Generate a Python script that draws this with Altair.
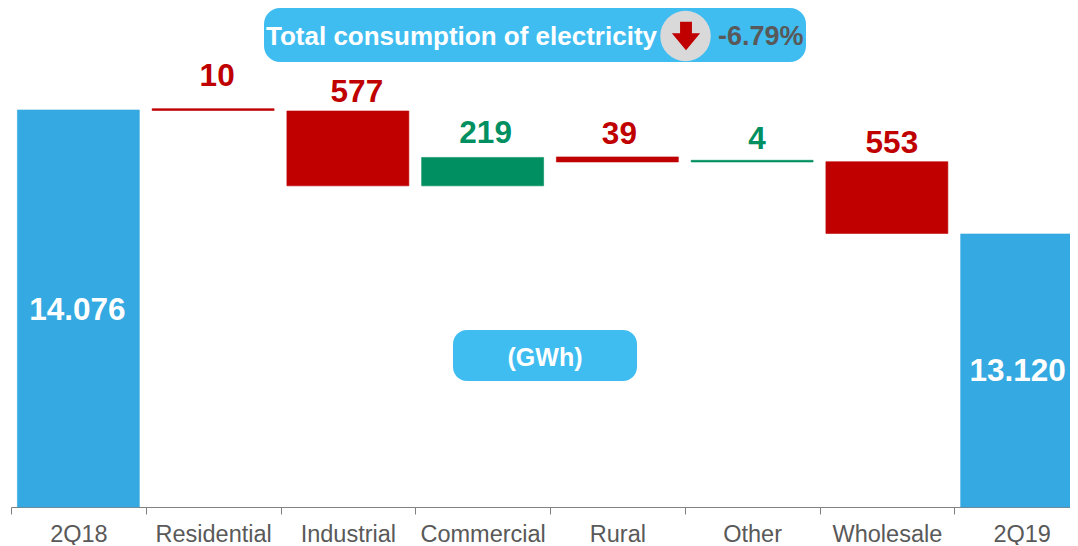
import altair as alt
import pandas as pd

FONT = "Liberation Sans"
categories = ["2Q18", "Residential", "Industrial", "Commercial", "Rural", "Other", "Wholesale", "2Q19"]
axis_floor = 11015
axis_ceiling = 14862
lows = [axis_floor, 14072, 13491, 13491, 13675, 13675, 13124, axis_floor]
highs = [14076, 14086, 14068, 13710, 13714, 13688, 13677, 13120]
kinds = ["total", "down", "down", "up", "down", "up", "down", "total"]
labels = ["14.076", "10", "577", "219", "39", "4", "553", "13.120"]
label_levels = [12545, 14346, 14219, 13906, 13899, 13860, 13829, 12068]
label_shift = [-1, 4, 9, 3, 2, 5, 5, -4]

df = pd.DataFrame({"cat": categories, "low": lows, "high": highs, "kind": kinds,
                   "label": labels, "level": label_levels, "shift": label_shift})

x = alt.X("cat:N", sort=categories, title=None,
          scale=alt.Scale(domain=categories, paddingInner=0.095, paddingOuter=0.0475),
          axis=alt.Axis(labelAngle=0, labelFont=FONT, labelFontSize=23.5, labelColor="#595959",
                        labelPadding=8, labelBaseline="top", bandPosition=0, tickOffset=-6.4, labelOffset=6.4,
                        tickSize=7, tickColor="#808080", domainColor="#808080", grid=False,
                        labelOverlap=False, ticks=True))
y_scale = alt.Scale(domain=[axis_floor, axis_ceiling], nice=False, zero=False)
y = alt.Y("low:Q", title=None, axis=None, scale=y_scale)

colour = alt.Color("kind:N", legend=None,
                   scale=alt.Scale(domain=["total", "down", "up"], range=["#35A9E1", "#C00000", "#008F60"]))

bars = alt.Chart(df).mark_bar(strokeWidth=0.6).encode(x=x, y=y, y2="high:Q", color=colour, stroke=colour)

layers = [bars]
for row in df.itertuples():
    text_colour = "#FFFFFF" if row.kind == "total" else ("#C00000" if row.kind == "down" else "#008F60")
    layers.append(
        alt.Chart(df[df.cat == row.cat]).mark_text(
            font=FONT, fontWeight="bold", fontSize=31.5, color=text_colour, dx=row.shift, dy=2
        ).encode(x=x, y=alt.Y("level:Q", title=None, axis=None, scale=y_scale), text="label:N")
    )


def pill(x1, x2, y1, y2, radius):
    return alt.Chart(pd.DataFrame({"a": [0]})).mark_rect(color="#3FBDF1", cornerRadius=radius).encode(
        x=alt.value(x1), x2=alt.value(x2), y=alt.value(y1), y2=alt.value(y2))


def note(text, px, py, size, colour, align="left"):
    return alt.Chart(pd.DataFrame({"t": [text]})).mark_text(
        font=FONT, fontWeight="bold", fontSize=size, color=colour, align=align, baseline="middle"
    ).encode(x=alt.value(px), y=alt.value(py), text="t:N")


circle = alt.Chart(pd.DataFrame({"a": [0]})).mark_point(
    filled=True, shape="circle", size=2550, color="#D9D9D9", opacity=1
).encode(x=alt.value(674.5), y=alt.value(28))
arrow = alt.Chart(pd.DataFrame({"a": [0]})).mark_point(
    filled=True, shape="M-0.42,-1L0.42,-1L0.42,-0.2L1,-0.2L0,1L-1,-0.2L-0.42,-0.2Z",
    size=800, color="#C00000", opacity=1
).encode(x=alt.value(675), y=alt.value(28))

layers += [
    pill(253, 795, 0, 54, 16),
    note("Total consumption of electricity", 255, 29, 26, "#FFFFFF"),
    circle, arrow,
    note("-6.79%", 707, 29, 27, "#595959"),
    pill(442, 626, 322, 373, 14),
    note("(GWh)", 534, 350, 25, "#FFFFFF", "center"),
]

chart = alt.layer(*layers).properties(
    width=1078, height=499,
    background="#FFFFFF",
    autosize=alt.AutoSizeParams(type="none"),
    padding={"left": 3, "top": 0, "right": -19, "bottom": 38},
).configure_view(stroke=None)

chart.save("out.html", embed_options={"renderer": "svg", "actions": False})
